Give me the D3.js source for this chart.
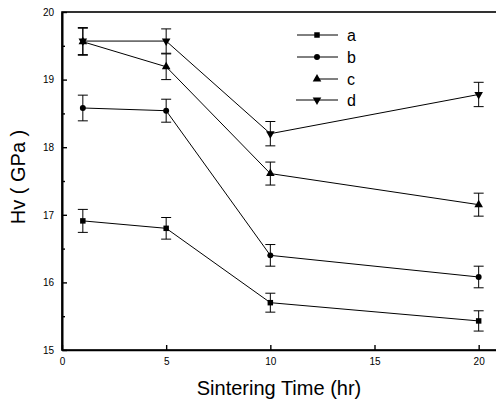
<!DOCTYPE html>
<html>
<head>
<meta charset="utf-8">
<script src="https://cdn.jsdelivr.net/npm/d3@7"></script>
<style>
body { margin:0; background:#fff; }
svg { font-family: Arial, "Liberation Sans", sans-serif; }
</style>
</head>
<body>
<svg id="chart"></svg>
<script>
// sintering time (hr)
var times = [1, 5, 10, 20]
var seriesNames = ["a", "b", "c", "d"]
var hvA = [16.91, 16.80, 15.70, 15.43]
var hvB = [18.58, 18.54, 16.40, 16.08]
var hvC = [19.56, 19.19, 17.61, 17.15]
var hvD = [19.57, 19.57, 18.20, 18.78]
var errA = [0.17, 0.16, 0.14, 0.15]
var errB = [0.19, 0.17, 0.16, 0.16]
var errC = [0.20, 0.19, 0.17, 0.17]
var errD = [0.20, 0.18, 0.18, 0.18]
var xTicks = [0, 5, 10, 15, 20]
var yTicks = [15, 16, 17, 18, 19, 20]

var width = 496
var height = 401

var svg = d3.select("#chart")
    .attr("width", width)
    .attr("height", height)

var xScale = d3.scaleLinear().domain([0, 21]).range([62, 499.5])
var yScale = d3.scaleLinear().domain([15, 20]).range([350, 12])

var series = [
    {name: "a", vals: hvA, err: errA, sym: d3.symbolSquare, size: 30, rot: 0},
    {name: "b", vals: hvB, err: errB, sym: d3.symbolCircle, size: 28, rot: 0},
    {name: "c", vals: hvC, err: errC, sym: d3.symbolTriangle, size: 32, rot: 0},
    {name: "d", vals: hvD, err: errD, sym: d3.symbolTriangle, size: 32, rot: 180}
]

// frame
svg.append("rect")
    .attr("x", xScale(0)).attr("y", yScale(20))
    .attr("width", xScale(21) - xScale(0))
    .attr("height", yScale(15) - yScale(20))
    .attr("fill", "none").attr("stroke", "#000").attr("stroke-width", 1.6)

// axes with inward ticks
var yAxis = d3.axisLeft(yScale).tickValues(yTicks).tickFormat(d3.format("d"))
    .tickSizeInner(-5).tickSizeOuter(0).tickPadding(8)
var yMinor = d3.axisLeft(yScale).tickValues([15.5, 16.5, 17.5, 18.5, 19.5])
    .tickSizeInner(-3).tickSizeOuter(0).tickFormat("")
var xAxis = d3.axisBottom(xScale).tickValues(xTicks).tickFormat(d3.format("d"))
    .tickSizeInner(-5).tickSizeOuter(0).tickPadding(8)

svg.append("g").attr("transform", "translate(" + xScale(0) + ",0)").call(yAxis)
svg.append("g").attr("transform", "translate(" + xScale(0) + ",0)").call(yMinor)
svg.append("g").attr("transform", "translate(0," + yScale(15) + ")").call(xAxis)

svg.selectAll(".domain").attr("stroke", "#000").attr("stroke-width", 1.6)
svg.selectAll(".tick line").attr("stroke", "#000").attr("stroke-width", 1.4)
svg.selectAll(".tick text").attr("font-size", 10).attr("fill", "#000")

// lines, error bars, markers
var line = d3.line()
    .x(function(d, i) { return xScale(times[i]) })
    .y(function(d) { return yScale(d) })

series.forEach(function(s)
{
    svg.append("path")
        .attr("d", line(s.vals))
        .attr("fill", "none").attr("stroke", "#000").attr("stroke-width", 1)

    var eb = svg.append("g").selectAll("g")
        .data(s.vals).enter().append("g")
    eb.append("line")
        .attr("x1", function(d, i) { return xScale(times[i]) })
        .attr("x2", function(d, i) { return xScale(times[i]) })
        .attr("y1", function(d, i) { return yScale(d + s.err[i]) })
        .attr("y2", function(d, i) { return yScale(d - s.err[i]) })
        .attr("stroke", "#000").attr("stroke-width", 1)
    ;[1, -1].forEach(function(sign)
    {
        eb.append("line")
            .attr("x1", function(d, i) { return xScale(times[i]) - 5 })
            .attr("x2", function(d, i) { return xScale(times[i]) + 5 })
            .attr("y1", function(d, i) { return yScale(d + sign * s.err[i]) })
            .attr("y2", function(d, i) { return yScale(d + sign * s.err[i]) })
            .attr("stroke", "#000").attr("stroke-width", 1)
    })

    svg.append("g").selectAll("path")
        .data(s.vals).enter().append("path")
        .attr("d", d3.symbol().type(s.sym).size(s.size))
        .attr("transform", function(d, i)
        {
            return "translate(" + xScale(times[i]) + "," + yScale(d) + ") rotate(" + s.rot + ")"
        })
        .attr("fill", "#000")
})

// legend
var legend = svg.append("g")
var legY = [35, 57, 79, 100]
var legX1 = [297, 297, 316, 296]
series.forEach(function(s, i)
{
    legend.append("line")
        .attr("x1", legX1[i]).attr("x2", 338)
        .attr("y1", legY[i]).attr("y2", legY[i])
        .attr("stroke", "#000").attr("stroke-width", 1)
    legend.append("path")
        .attr("d", d3.symbol().type(s.sym).size(s.size))
        .attr("transform", "translate(317," + legY[i] + ") rotate(" + s.rot + ")")
        .attr("fill", "#000")
    legend.append("text")
        .attr("x", 347).attr("y", legY[i] + 6)
        .attr("font-size", 16)
        .text(seriesNames[i])
})

// axis titles
svg.append("text")
    .attr("x", 279).attr("y", 395)
    .attr("text-anchor", "middle")
    .attr("font-size", 20)
    .text("Sintering Time (hr)")

svg.append("text")
    .attr("transform", "translate(25,177) rotate(-90)")
    .attr("text-anchor", "middle")
    .attr("font-size", 20)
    .text("Hv ( GPa )")
</script>
</body>
</html>
